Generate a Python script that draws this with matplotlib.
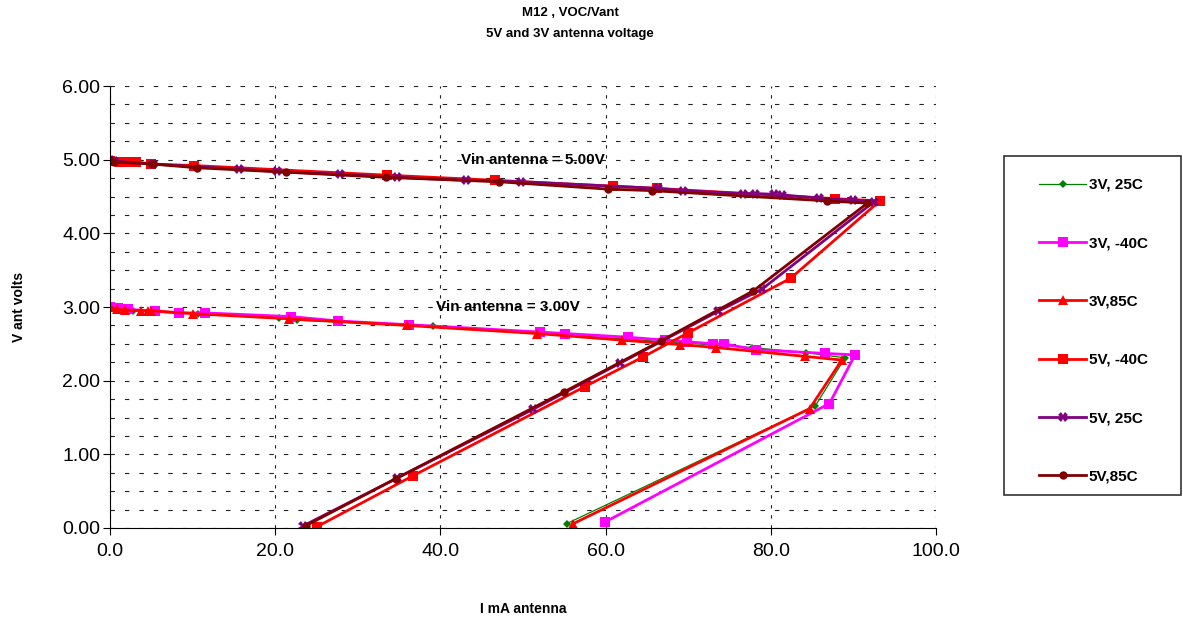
'''
Recreates the M12 VOC/Vant chart: antenna voltage vs antenna current at 5V and 3V.
'''
import matplotlib.pyplot as plt
import matplotlib.patches as mpatches
import numpy as np

# 3V, 25C
i_3v_25 = [0.0, 2.8, 10.7, 20.4, 22.6, 39.1, 77.7, 84.3, 89.0, 85.4, 55.3]
v_3v_25 = [3.00, 2.95, 2.91, 2.85, 2.82, 2.74, 2.45, 2.38, 2.31, 1.66, 0.06]

# 3V, -40C
i_3v_m40 = [0.0, 1.0, 2.2, 5.5, 8.3, 11.5, 21.9, 27.6, 36.2, 52.1, 55.1, 62.7,
            67.2, 69.8, 73.0, 74.3, 78.2, 86.6, 90.2, 87.1, 59.9]
v_3v_m40 = [3.00, 2.98, 2.97, 2.94, 2.92, 2.92, 2.87, 2.81, 2.76, 2.66, 2.64, 2.59,
            2.55, 2.53, 2.50, 2.50, 2.42, 2.37, 2.35, 1.69, 0.08]

# 3V, 85C
i_3v_85 = [0.0, 0.8, 1.8, 3.8, 4.6, 5.0, 10.0, 21.7, 35.9, 51.7, 62.0, 69.0,
           73.4, 84.1, 88.6, 84.7, 56.1]
v_3v_85 = [3.00, 2.97, 2.96, 2.95, 2.95, 2.95, 2.91, 2.84, 2.75, 2.64, 2.55, 2.49,
           2.45, 2.33, 2.28, 1.62, 0.06]

# 5V, -40C
i_5v_m40 = [0.0, 1.2, 2.0, 2.6, 3.2, 5.0, 10.2, 33.5, 46.6, 60.9, 66.2, 87.8,
            93.2, 82.4, 70.0, 64.5, 57.5, 36.7, 25.1]
v_5v_m40 = [4.98, 4.97, 4.97, 4.97, 4.97, 4.94, 4.92, 4.79, 4.72, 4.64, 4.61, 4.47,
            4.44, 3.39, 2.65, 2.32, 1.92, 0.71, 0.02]

# 5V, 25C
i_5v_25 = [0.0, 0.5, 5.2, 15.6, 20.2, 27.8, 34.8, 43.1, 49.8, 66.4, 69.4, 76.6,
           78.1, 80.4, 81.4, 85.8, 89.9, 92.5, 78.9, 73.6, 61.8, 51.2, 34.8, 23.4]
v_5v_25 = [5.00, 4.98, 4.94, 4.87, 4.84, 4.80, 4.76, 4.72, 4.70, 4.61, 4.58, 4.54,
           4.54, 4.53, 4.52, 4.48, 4.45, 4.43, 3.24, 2.94, 2.24, 1.61, 0.68, 0.03]

# 5V, 85C
i_5v_85 = [0.0, 0.5, 5.2, 10.5, 21.3, 33.4, 47.1, 60.3, 65.6, 86.8, 91.7, 77.9,
           66.7, 55.0, 34.6, 23.7]
v_5v_85 = [4.99, 4.97, 4.94, 4.89, 4.83, 4.76, 4.70, 4.60, 4.58, 4.44, 4.41, 3.22,
           2.54, 1.85, 0.67, 0.03]

plt.rcParams['font.family'] = ['Liberation Sans', 'DejaVu Sans']

W, H = 1183, 617
fig = plt.figure(figsize=(W / 100, H / 100), dpi=100)
ax = fig.add_axes([110 / W, 1 - 528 / H, 826 / W, 442 / H])

series = [
    (i_3v_25, v_3v_25, '3V, 25C', '#008000', 'D', 4, 0.9),
    (i_3v_m40, v_3v_m40, '3V, -40C', '#FF00FF', 's', 7, 2.0),
    (i_3v_85, v_3v_85, '3V,85C', '#FF0000', '^', 7, 2.0),
    (i_5v_m40, v_5v_m40, '5V, -40C', '#FF0000', 's', 7, 2.0),
    (i_5v_25, v_5v_25, '5V, 25C', '#800080', 'X', 7, 2.0),
    (i_5v_85, v_5v_85, '5V,85C', '#800000', 'o', 6, 2.0),
]
for x, y, label, color, marker, ms, lw in series:
    ax.plot(x, y, color=color, marker=marker, markersize=ms, lw=lw,
            markeredgewidth=0, label=label)

ax.set_xlim(0, 100)
ax.set_ylim(0, 6)
ax.set_xticks(np.arange(0, 101, 20))
ax.set_yticks(np.arange(0, 6.01, 1))
ax.set_yticks(np.arange(0, 6.01, 0.25), minor=True)
ax.set_xticklabels(['%.1f' % t for t in np.arange(0, 101, 20)])
ax.set_yticklabels(['%.2f' % t for t in np.arange(0, 6.01, 1)])
ax.tick_params(which='major', labelsize=14, length=5, direction='out')
ax.tick_params(which='minor', length=0)
ax.tick_params(axis='x', pad=6)
ax.tick_params(axis='y', pad=2)

ax.grid(axis='y', which='both', color='#222222', lw=0.8, ls=(0, (4, 9)))
ax.grid(axis='x', which='major', color='#222222', lw=0.8, ls=(0, (3, 6)))
ax.set_axisbelow(True)

ax.spines['top'].set_visible(False)
ax.spines['right'].set_visible(False)

ax.set_xlabel('I mA antenna', fontsize=10, fontweight='bold', labelpad=30)
ax.set_ylabel('V ant volts', fontsize=10, fontweight='bold', labelpad=26)

ax.text(42.5, 5.0, 'Vin antenna = 5.00V', fontsize=11, fontweight='bold',
        va='center', ha='left')
ax.text(39.5, 3.0, 'Vin antenna = 3.00V', fontsize=11, fontweight='bold',
        va='center', ha='left')

fig.text(570 / W, 1 - 13 / H, 'M12 , VOC/Vant', ha='center', va='center',
         fontsize=9.5, fontweight='bold')
fig.text(570 / W, 1 - 34 / H, '5V and 3V antenna voltage', ha='center',
         va='center', fontsize=9.5, fontweight='bold')

# legend box
fig.patches.append(mpatches.Rectangle((1004 / W, 1 - 495 / H), 177 / W, 339 / H,
                                      transform=fig.transFigure, fill=False,
                                      edgecolor='#333333', lw=1.2))
fig.legend(loc='upper left', bbox_to_anchor=(1039 / W, 1 - 178 / H),
           frameon=False, borderpad=0, borderaxespad=0,
           prop={'weight': 'bold', 'size': 11}, labelspacing=2.9,
           handlelength=3.1, handletextpad=0.15)

fig.savefig('out.png', dpi=100)
